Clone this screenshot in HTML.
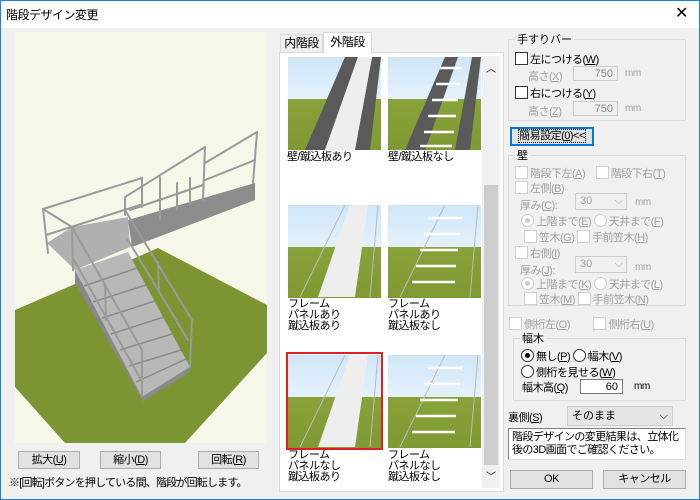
<!DOCTYPE html>
<html><head><meta charset="utf-8"><style>
*{box-sizing:border-box;margin:0;padding:0}
body{width:700px;height:500px;overflow:hidden;background:#f0f0f0;font-family:"Liberation Sans","Noto Sans CJK JP",sans-serif;font-size:11px;color:#000;position:relative}
.a{position:absolute;white-space:nowrap;letter-spacing:-0.5px}
.win{position:absolute;left:0;top:0;width:700px;height:500px;border:1px solid #1883d7}
.btn{position:absolute;background:#e1e1e1;border:1px solid #adadad;text-align:center;line-height:16px;letter-spacing:-0.5px;white-space:nowrap}
.grp{position:absolute;border:1px solid #dcdcdc}
.gl{position:absolute;background:#f0f0f0;padding:0 2px;top:-9px;left:6px}
.cb{display:inline-block;width:13px;height:13px;border:1px solid #333;background:#fff;vertical-align:-2px;margin-right:2px}
.d{color:#a0a0a0}
.d .cb{border-color:#cfcfcf}
.rb{display:inline-block;width:13px;height:13px;border:1px solid #333;border-radius:50%;background:#fff;vertical-align:-2px;margin-right:2px;position:relative}
.rb.on::after{content:"";position:absolute;left:3px;top:3px;width:5px;height:5px;border-radius:50%;background:#000}
.d .rb{border-color:#cfcfcf}.d .rb.on::after{background:#ccc}
.ed{position:absolute;background:#fff;border:1px solid #7a7a7a;text-align:right;padding-right:4px;line-height:14px}
.d.ed{border-color:#ccc;background:#f0f0f0}
.cmb{position:absolute;border:1px solid #ccc;background:#f0f0f0;line-height:15px;padding-left:4px}
.th{position:absolute;width:93px;height:93px;background:linear-gradient(#cfe6f8 0,#e4f1fb 45%,#8aa23a 45%,#7f9933 100%);overflow:hidden}
.lbl{position:absolute;font-size:11px;line-height:11px;letter-spacing:-0.5px;white-space:nowrap}
</style></head><body>
<div class="win"></div>
<div style="position:absolute;left:1px;top:1px;width:698px;height:27px;background:#fff"></div>
<div class="a" style="left:6px;top:6px;font-size:12px">階段デザイン変更</div>
<div class="a" style="left:675px;top:3px;font-size:16px">✕</div>

<div style="position:absolute;left:15px;top:32px;width:252px;height:411px;background:#f6f7e9"></div>
<svg style="position:absolute;left:0;top:0" width="280" height="450">
<polygon points="15,310 158,248 267,305 267,353 185,443 65,443 15,387" fill="#7d9432"/>
<polygon points="128,220 255,183 255,200 132,247" fill="#8c8c8c"/>
<polygon points="47,243 72,227 128,217 130,247 75,270 72,267" fill="#b0b0b0"/>
<polygon points="75,270 75,283 142,400 142,397" fill="#888"/>
<polygon points="75,270 128,252 190,367 142,397" fill="#b8b8b8"/>
<polygon points="142,397 190,367 190,372 142,402" fill="#8a8a8a"/>
<g stroke="#8a8a8a" stroke-width="1.5">
<line x1="84" y1="286" x2="137" y2="268"/><line x1="93" y1="302" x2="146" y2="285"/><line x1="102" y1="318" x2="155" y2="301"/><line x1="111" y1="334" x2="164" y2="317"/><line x1="120" y1="350" x2="172" y2="334"/><line x1="129" y1="366" x2="181" y2="350"/><line x1="136" y1="382" x2="186" y2="359"/>
</g>
<g stroke="#9a9a9a" stroke-width="2" fill="none" stroke-linecap="round">
<polyline points="48,253 43,209 142,178 142,207"/>
<line x1="43" y1="209" x2="72" y2="227"/><line x1="72" y1="227" x2="73" y2="270"/>
<line x1="46" y1="235" x2="140" y2="205"/>
<line x1="125" y1="197" x2="205" y2="147"/><line x1="125" y1="197" x2="125" y2="215"/>
<line x1="205" y1="147" x2="203" y2="200"/><line x1="160" y1="177" x2="160" y2="220"/>
<line x1="130" y1="210" x2="203" y2="185"/>
<line x1="205" y1="163" x2="257" y2="132"/><line x1="257" y1="132" x2="253" y2="183"/>
<line x1="205" y1="180" x2="255" y2="160"/>
<line x1="177" y1="183" x2="177" y2="210"/><line x1="190" y1="178" x2="190" y2="205"/>
<line x1="72" y1="227" x2="142" y2="350"/><line x1="142" y1="350" x2="142" y2="397"/>
<line x1="73" y1="258" x2="140" y2="378"/><line x1="105" y1="285" x2="106" y2="320"/>
<line x1="125" y1="210" x2="192" y2="320"/><line x1="192" y1="320" x2="190" y2="367"/>
<line x1="128" y1="240" x2="188" y2="340"/><line x1="158" y1="262" x2="159" y2="292"/>
</g>
</svg>
<div class="btn" style="left:18px;top:451px;width:62px;height:18px">拡大(<u>U</u>)</div>
<div class="btn" style="left:100px;top:451px;width:61px;height:18px">縮小(<u>D</u>)</div>
<div class="btn" style="left:198px;top:451px;width:61px;height:18px">回転(<u>R</u>)</div>
<div class="a" style="left:9px;top:474px;font-size:11px;letter-spacing:-0.8px">※[回転]ボタンを押している間、階段が回転します。</div>

<div class="a" style="left:280px;top:34px;width:43px;height:19px;border:1px solid #d9d9d9;background:#f0f0f0;text-align:center;line-height:17px;font-size:12px">内階段</div>
<div class="a" style="left:323px;top:32px;width:49px;height:21px;border:1px solid #d9d9d9;border-bottom:none;background:#fff;text-align:center;line-height:19px;z-index:2;font-size:12px">外階段</div>
<div style="position:absolute;left:279px;top:52px;width:225px;height:440px;border:1px solid #d9d9d9;background:#fff"></div>
<div style="position:absolute;left:482px;top:56px;width:18px;height:432px;background:#f0f0f0"></div>
<div class="a" style="left:486px;top:60px;font-size:10px">︿</div>
<div style="position:absolute;left:484px;top:185px;width:14px;height:280px;background:#cdcdcd"></div>
<div class="a" style="left:486px;top:468px;font-size:10px">﹀</div>

<div class="th" style="left:288px;top:57px"></div><div class="th" style="left:388px;top:57px"></div>
<div class="th" style="left:288px;top:205px"></div><div class="th" style="left:388px;top:205px"></div>
<div class="th" style="left:288px;top:355px"></div><div class="th" style="left:388px;top:355px"></div>
<svg style="position:absolute;left:0;top:0" width="500" height="500">
<g fill="#5a5a5a">
<polygon points="305,150 345,57 358,57 325,150"/><polygon points="355,150 372,57 381,57 370,150"/>
<polygon points="405,150 445,57 458,57 425,150"/><polygon points="455,150 472,57 481,57 470,150"/>
</g>
<polygon points="325,150 358,57 372,57 355,150" fill="#eee"/>
<g stroke="#fff" stroke-width="2.5"><line x1="440" y1="68" x2="462" y2="68"/><line x1="436" y1="84" x2="460" y2="84"/><line x1="432" y1="100" x2="458" y2="100"/><line x1="428" y1="116" x2="456" y2="116"/><line x1="424" y1="132" x2="454" y2="132"/><line x1="420" y1="146" x2="452" y2="146"/></g>
<g stroke="#bbb" stroke-width="1" fill="none">
<line x1="300" y1="297" x2="345" y2="205"/><line x1="370" y1="297" x2="378" y2="205"/>
<line x1="400" y1="297" x2="445" y2="205"/><line x1="470" y1="297" x2="478" y2="205"/>
<line x1="300" y1="447" x2="345" y2="355"/><line x1="370" y1="447" x2="378" y2="355"/>
<line x1="400" y1="447" x2="445" y2="355"/><line x1="470" y1="447" x2="478" y2="355"/>
</g>
<polygon points="318,297 350,205 368,205 355,297" fill="#eee"/>
<polygon points="318,447 350,355 368,355 355,447" fill="#eee"/>
<g stroke="#fff" stroke-width="2.5"><line x1="428" y1="218" x2="462" y2="218"/><line x1="424" y1="234" x2="460" y2="234"/><line x1="420" y1="250" x2="458" y2="250"/><line x1="416" y1="266" x2="456" y2="266"/><line x1="412" y1="282" x2="455" y2="282"/>
<line x1="428" y1="368" x2="462" y2="368"/><line x1="424" y1="384" x2="460" y2="384"/><line x1="420" y1="400" x2="458" y2="400"/><line x1="416" y1="416" x2="456" y2="416"/><line x1="412" y1="432" x2="455" y2="432"/></g>
<rect x="287" y="353" width="95" height="96" fill="none" stroke="#e02020" stroke-width="2"/>
</svg>
<div class="lbl" style="left:287px;top:152px">壁/蹴込板あり</div>
<div class="lbl" style="left:388px;top:152px">壁/蹴込板なし</div>
<div class="lbl" style="left:288px;top:299px">フレーム<br>パネルあり<br>蹴込板あり</div>
<div class="lbl" style="left:388px;top:299px">フレーム<br>パネルあり<br>蹴込板なし</div>
<div class="lbl" style="left:288px;top:450px">フレーム<br>パネルなし<br>蹴込板あり</div>
<div class="lbl" style="left:388px;top:450px">フレーム<br>パネルなし<br>蹴込板なし</div>

<div class="grp" style="left:508px;top:39px;width:178px;height:82px"><span class="gl">手すりバー</span></div>
<div class="a" style="left:515px;top:51px"><span class="cb"></span>左につける(<u>W</u>)</div>
<div class="a d" style="left:528px;top:68px">高さ(<u>X</u>)</div>
<div class="ed d" style="left:573px;top:66px;width:45px;height:15px;color:#888">750</div>
<div class="a d" style="left:625px;top:68px;font-size:10px">mm</div>
<div class="a" style="left:515px;top:85px"><span class="cb"></span>右につける(<u>Y</u>)</div>
<div class="a d" style="left:528px;top:103px">高さ(<u>Z</u>)</div>
<div class="ed d" style="left:573px;top:101px;width:45px;height:15px;color:#888">750</div>
<div class="a d" style="left:625px;top:103px;font-size:10px">mm</div>
<div class="btn" style="left:510px;top:127px;width:84px;height:19px;border:2px solid #0078d7;line-height:14px"><span style="outline:1px dotted #000">簡易設定(<u>0</u>)&lt;&lt;</span></div>

<div class="grp" style="left:508px;top:155px;width:178px;height:151px"><span class="gl">壁</span></div>
<div class="a d" style="left:515px;top:165px"><span class="cb"></span>階段下左(<u>A</u>)　<span class="cb"></span>階段下右(<u>T</u>)</div>
<div class="a d" style="left:515px;top:180px"><span class="cb"></span>左側(<u>B</u>)</div>
<div class="a d" style="left:520px;top:197px">厚み(<u>C</u>):</div>
<div class="cmb d" style="left:575px;top:193px;width:52px;height:17px">30<span style="float:right;padding-right:3px">⌵</span></div>
<div class="a d" style="left:635px;top:197px;font-size:10px">mm</div>
<div class="a d" style="left:521px;top:213px"><span class="rb on"></span>上階まで(<u>E</u>) <span class="rb"></span>天井まで(<u>F</u>)</div>
<div class="a d" style="left:524px;top:229px"><span class="cb"></span>笠木(<u>G</u>) <span class="cb"></span>手前笠木(<u>H</u>)</div>
<div class="a d" style="left:515px;top:245px"><span class="cb"></span>右側(<u>I</u>)</div>
<div class="a d" style="left:520px;top:262px">厚み(<u>J</u>):</div>
<div class="cmb d" style="left:575px;top:256px;width:52px;height:17px">30<span style="float:right;padding-right:3px">⌵</span></div>
<div class="a d" style="left:635px;top:262px;font-size:10px">mm</div>
<div class="a d" style="left:521px;top:276px"><span class="rb on"></span>上階まで(<u>K</u>) <span class="rb"></span>天井まで(<u>L</u>)</div>
<div class="a d" style="left:524px;top:291px"><span class="cb"></span>笠木(<u>M</u>) <span class="cb"></span>手前笠木(<u>N</u>)</div>

<div class="a d" style="left:509px;top:316px"><span class="cb"></span>側桁左(<u>O</u>)　　 <span class="cb"></span>側桁右(<u>U</u>)</div>
<div class="grp" style="left:513px;top:338px;width:173px;height:63px"><span class="gl">幅木</span></div>
<div class="a" style="left:521px;top:348px"><span class="rb on"></span>無し(<u>P</u>) <span class="rb"></span>幅木(<u>V</u>)</div>
<div class="a" style="left:521px;top:364px"><span class="rb"></span>側桁を見せる(<u>W</u>)</div>
<div class="a" style="left:522px;top:379px">幅木高(<u>Q</u>)</div>
<div class="ed" style="left:580px;top:379px;width:43px;height:15px">60</div>
<div class="a" style="left:634px;top:381px;font-size:10px">mm</div>

<div class="a" style="left:508px;top:409px">裏側(<u>S</u>)</div>
<div class="cmb" style="left:567px;top:406px;width:106px;height:20px;background:#e5e5e5;line-height:18px">そのまま<span style="float:right;padding-right:4px">⌵</span></div>
<div style="position:absolute;left:508px;top:428px;width:178px;height:32px;background:#fff;border:1px solid #828282;border-right-color:#ddd;border-bottom-color:#ddd;padding:2px 3px;font-size:11px;line-height:13px;letter-spacing:-0.6px;white-space:nowrap;overflow:hidden">階段デザインの変更結果は、立体化<br>後の3D画面でご確認ください。</div>
<div class="btn" style="left:510px;top:470px;width:83px;height:19px">OK</div>
<div class="btn" style="left:603px;top:470px;width:83px;height:19px">キャンセル</div>
</body></html>
